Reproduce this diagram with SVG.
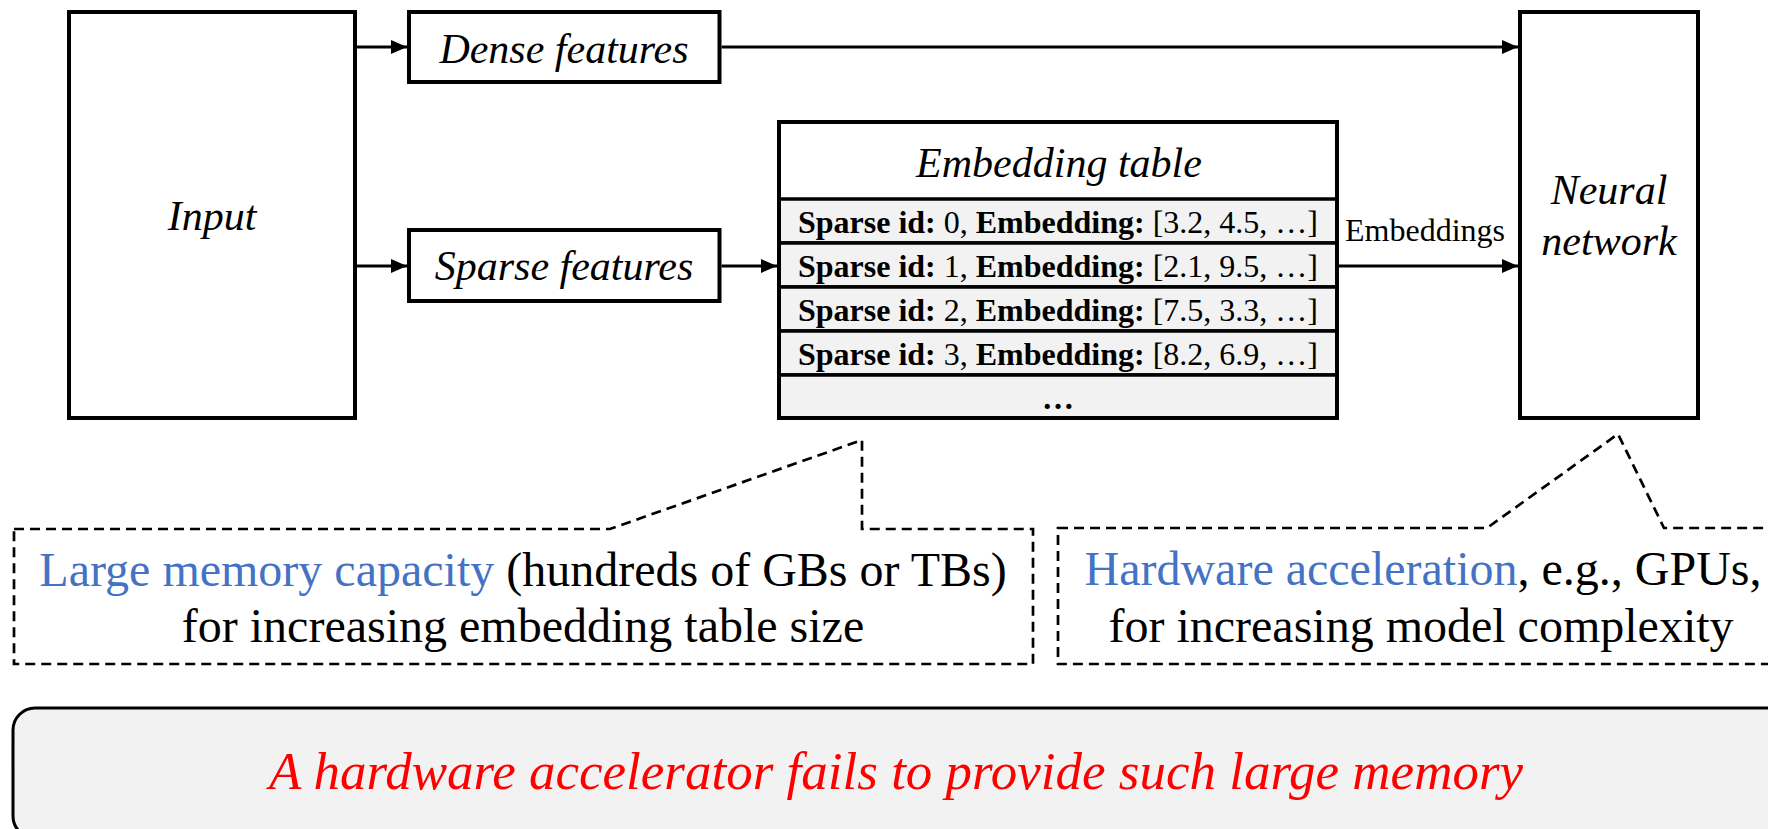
<svg xmlns="http://www.w3.org/2000/svg" width="1768" height="829" viewBox="0 0 1768 829">
  <style>
    .box { fill: #ffffff; stroke: #000000; stroke-width: 4; }
    .row { fill: #f2f2f2; stroke: #000000; stroke-width: 3.5; }
    .wire { fill: none; stroke: #000000; stroke-width: 3.2; }
    .callout { fill: #ffffff; stroke: #000000; stroke-width: 2.7; stroke-dasharray: 10 6; }
    .note { fill: #f2f2f2; stroke: #000000; stroke-width: 3; }
    .serif { font-family: "Liberation Serif", "Times New Roman", serif; fill: #000000; }
    .label { font-size: 42px; font-style: italic; text-anchor: middle; }
    .cell { font-size: 32px; text-anchor: middle; }
    .b { font-weight: bold; }
    .big { font-size: 48px; text-anchor: middle; }
    .hl { fill: #4472c4; }
    .warn { font-size: 53px; font-style: italic; text-anchor: middle; fill: #ff0000; }
  </style>
  <defs>
    <marker id="arrow" markerUnits="userSpaceOnUse" markerWidth="16" markerHeight="14" viewBox="0 0 16 14" refX="16" refY="7" orient="auto">
      <path d="M0,0 L16,7 L0,14 Z" fill="#000000"/>
    </marker>
  </defs>

  <!-- connectors -->
  <g id="connectors">
    <line class="wire" x1="357" y1="47" x2="407" y2="47" marker-end="url(#arrow)"/>
    <line class="wire" x1="357" y1="266" x2="407" y2="266" marker-end="url(#arrow)"/>
    <line class="wire" x1="721.5" y1="47" x2="1518" y2="47" marker-end="url(#arrow)"/>
    <line class="wire" x1="721.5" y1="266" x2="777" y2="266" marker-end="url(#arrow)"/>
    <line class="wire" x1="1339" y1="266" x2="1518" y2="266" marker-end="url(#arrow)"/>
    <text class="serif" x="1425" y="241" font-size="32" text-anchor="middle">Embeddings</text>
  </g>

  <g id="input">
    <rect class="box" x="69" y="12" width="286" height="406"/>
    <text class="serif label" x="212" y="230">Input</text>
  </g>

  <g id="dense-features">
    <rect class="box" x="409" y="12" width="310.5" height="70"/>
    <text class="serif label" x="564" y="63">Dense features</text>
  </g>

  <g id="sparse-features">
    <rect class="box" x="409" y="230" width="310.5" height="71"/>
    <text class="serif label" x="564" y="280">Sparse features</text>
  </g>

  <g id="embedding-table">
    <rect class="box" x="779" y="122" width="558" height="296"/>
    <rect class="row" x="779" y="199" width="558" height="44"/>
    <rect class="row" x="779" y="243" width="558" height="44"/>
    <rect class="row" x="779" y="287" width="558" height="44"/>
    <rect class="row" x="779" y="331" width="558" height="44"/>
    <rect class="row" x="779" y="375" width="558" height="43"/>
    <rect x="779" y="122" width="558" height="296" fill="none" stroke="#000000" stroke-width="4"/>
    <text class="serif label" x="1059" y="177">Embedding table</text>
    <text class="serif cell" x="1058" y="233"><tspan class="b">Sparse id:</tspan> 0, <tspan class="b">Embedding:</tspan> [3.2, 4.5, …]</text>
    <text class="serif cell" x="1058" y="277"><tspan class="b">Sparse id:</tspan> 1, <tspan class="b">Embedding:</tspan> [2.1, 9.5, …]</text>
    <text class="serif cell" x="1058" y="321"><tspan class="b">Sparse id:</tspan> 2, <tspan class="b">Embedding:</tspan> [7.5, 3.3, …]</text>
    <text class="serif cell" x="1058" y="365"><tspan class="b">Sparse id:</tspan> 3, <tspan class="b">Embedding:</tspan> [8.2, 6.9, …]</text>
    <text class="serif cell b" x="1058" y="409">…</text>
  </g>

  <g id="neural-network">
    <rect class="box" x="1520" y="12" width="178" height="406"/>
    <text class="serif label" x="1609" y="204">Neural</text>
    <text class="serif label" x="1609" y="255">network</text>
  </g>

  <g id="memory-callout">
    <path class="callout" d="M14,529 L610,529 L862,440 L862,529 L1033,529 L1033,664 L14,664 Z"/>
    <text class="serif big" x="523" y="586"><tspan class="hl">Large memory capacity</tspan> (hundreds of GBs or TBs)</text>
    <text class="serif big" x="523" y="642">for increasing embedding table size</text>
  </g>

  <g id="compute-callout">
    <path class="callout" d="M1058,528 L1487,528 L1618,434 L1664,528 L1790,528 L1790,664 L1058,664 Z"/>
    <text class="serif big" x="1423" y="585"><tspan class="hl">Hardware acceleration</tspan>, e.g., GPUs,</text>
    <text class="serif big" x="1421" y="642">for increasing model complexity</text>
  </g>

  <g id="conclusion">
    <rect class="note" x="13" y="708" width="1790" height="130" rx="22" ry="22"/>
    <text class="serif warn" x="896" y="789">A hardware accelerator fails to provide such large memory</text>
  </g>
</svg>
